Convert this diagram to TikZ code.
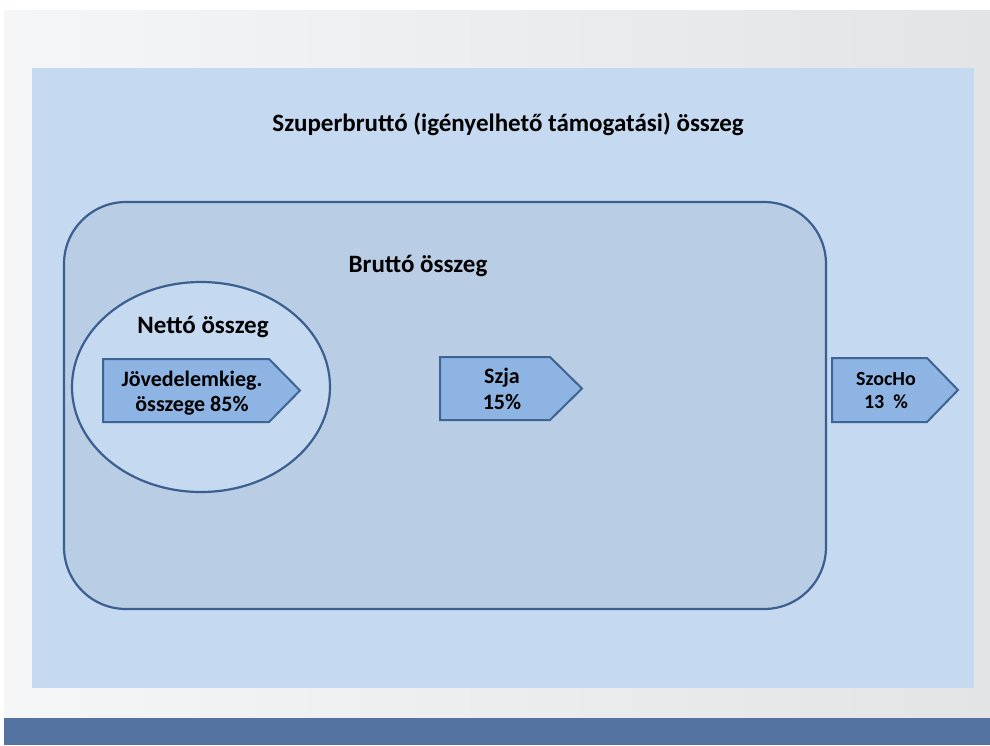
\documentclass[tikz,border=0pt]{standalone}
\usepackage{fontspec}
\setmainfont{Carlito}
\definecolor{bgL}{HTML}{F5F6F8}
\definecolor{bgM}{HTML}{CBD1DD}
\definecolor{bgR}{HTML}{E3E4E6}
\definecolor{barblue}{HTML}{5473A0}
\definecolor{panel}{HTML}{C5D9F0}
\definecolor{brutto}{HTML}{B9CDE4}
\definecolor{edge}{HTML}{3C5F8F}
\definecolor{arrfill}{HTML}{8EB4E3}
\definecolor{arredge}{HTML}{3F6494}
\tikzset{
  title/.style={font=\bfseries\fontsize{25}{30}\selectfont, text=black},
  arrowbox/.style={draw=arredge, line width=2pt, fill=arrfill},
}
\begin{document}
\begin{tikzpicture}[x=1pt,y=-1pt]
\useasboundingbox (0,0) rectangle (990,745);
\fill[white] (0,0) rectangle (990,745);
\shade[left color=bgL, middle color=bgM, right color=bgR] (4,10) rectangle (990,718);
\fill[barblue] (4,718) rectangle (990,745);
\fill[panel] (32,68) rectangle (974,688);
\node[title] (super) at (508,124) {Szuperbruttó (igényelhető támogatási) összeg};
\draw[draw=edge, line width=2.2pt, fill=brutto, rounded corners=62pt] (64,202) rectangle (826,609);
\node[title] (brutto) at (418,266) {Bruttó összeg};
\draw[draw=edge, line width=2.2pt, fill=panel] (201,387) ellipse [x radius=129, y radius=105];
\node[title] (netto) at (203,327) {Nettó összeg};
% arrows
\draw[arrowbox] (103,359) -- (269,359) -- (300,390.5) -- (269,422) -- (103,422) -- cycle;
\node[font=\bfseries\fontsize{22}{25}\selectfont, align=center] (jov) at (192,393) {Jövedelemkieg.\\összege 85\%};
\draw[arrowbox] (440,357) -- (550,357) -- (582,388.5) -- (550,420) -- (440,420) -- cycle;
\node[font=\bfseries\fontsize{22}{26}\selectfont, align=center] (szja) at (502,389) {Szja\\15\%};
\draw[arrowbox] (832,358) -- (927,358) -- (958,390) -- (927,422) -- (832,422) -- cycle;
\node[font=\bfseries\fontsize{20}{23}\selectfont, align=center] (szoc) at (886,391) {SzocHo\\13~~\%};
\end{tikzpicture}
\end{document}
